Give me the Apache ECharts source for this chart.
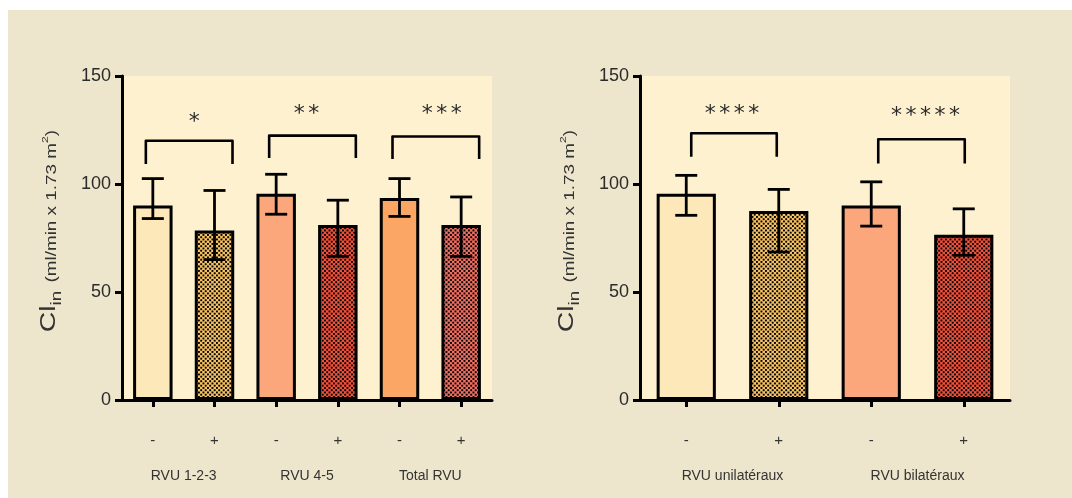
<!DOCTYPE html>
<html>
<head>
<meta charset="utf-8">
<script src="https://cdn.jsdelivr.net/npm/echarts@6/dist/echarts.min.js"></script>
<style>
  html, body { margin: 0; padding: 0; background: #ffffff; }
  #bg { position: absolute; left: 8px; top: 10px; width: 1064px; height: 488px; background: #EDE6CC; }
  #chart { position: absolute; left: 0; top: 0; width: 1072px; height: 498px; }
</style>
</head>
<body>
<div id="bg"></div>
<div id="chart"></div>
<script>
// ---------------- DATA ----------------
const leftCategories = ['-', '+', '-', '+', '-', '+'];
const leftGroups = ['RVU 1-2-3', 'RVU 4-5', 'Total RVU'];
const leftMeans = [90, 78.5, 95.5, 81, 93.5, 81];
const leftErrHigh = [102.5, 97, 104.5, 92.5, 102.5, 94];
const leftErrLow = [84, 65, 86, 66.5, 85, 66.5];
const leftPairs = [[0, 1], [2, 3], [4, 5]];
const leftBracketTop = [120, 122.4, 122];
const leftBracketBottom = [109.3, 112, 111.6];
const leftStarY = [131, 134.7, 134.7];
const leftStars = ['*', '**', '***'];

const rightCategories = ['-', '+', '-', '+'];
const rightGroups = ['RVU unilatéraux', 'RVU bilatéraux'];
const rightMeans = [95.5, 87.5, 90, 76.5];
const rightErrHigh = [104, 97.5, 101, 88.5];
const rightErrLow = [85.5, 68.5, 80.5, 67];
const rightPairs = [[0, 1], [2, 3]];
const rightBracketTop = [123.5, 120.7];
const rightBracketBottom = [112.6, 109.5];
const rightStarY = [134.5, 133.5];
const rightStars = ['****', '*****'];

const yTicks = [0, 50, 100, 150];
const yTitleParts = ['Cl', 'in', '(ml/min x 1.73 m', '2', ')'];

// ---------------- STYLE ----------------
function checker(color) {
  const c = document.createElement('canvas');
  c.width = 9; c.height = 9;
  const g = c.getContext('2d');
  g.fillStyle = color; g.fillRect(0, 0, 9, 9);
  g.fillStyle = '#000';
  const cell = 2.25, s = 1.9;
  for (let i = 0; i < 4; i++) {
    for (let j = 0; j < 4; j++) {
      if ((i + j) % 2 === 0) g.fillRect(i * cell, j * cell, s, s);
    }
  }
  return { image: c, repeat: 'repeat' };
}
const leftColors = ['#FDE8BA', checker('#F6C064'), '#FCA67C', checker('#F2503B'), '#FBA664', checker('#F26E60')];
const rightColors = ['#FDE8BA', checker('#F6C064'), '#FCA67C', checker('#F2503B')];
const leftBracketOffsets = [[-7, 18], [-7, 18], [-7, 18]];
const rightBracketOffsets = [[5, -2], [7, 1]];
const leftStarOffsets = [5, -6, 6];
const rightStarOffsets = [-2, 4];

const chart = echarts.init(document.getElementById('chart'), null, { renderer: 'canvas' });

// y-axis title, built from parts with sub/superscript, rotated
const measureCtx = document.createElement('canvas').getContext('2d');
function tw(text, size) { measureCtx.font = size + 'px "Liberation Sans"'; return measureCtx.measureText(text).width; }
function yTitle(cx, cy) {
  const specs = [
    { t: yTitleParts[0], size: 21, dy: 0 },
    { t: yTitleParts[1], size: 14, dy: 7.5, gapAfter: 6 },
    { t: yTitleParts[2], size: 14, dy: 3 },
    { t: yTitleParts[3], size: 9, dy: -3 },
    { t: yTitleParts[4], size: 14, dy: 3 }
  ];
  let total = 0;
  specs.forEach(s => { s.w = tw(s.t, s.size); total += s.w + (s.gapAfter || 0); });
  let x = -total / 2;
  const children = specs.map(s => {
    const el = { type: 'text', x: x, y: s.dy,
      style: { text: s.t, fontSize: s.size, fontFamily: 'Liberation Sans', fill: '#333',
        align: 'left', verticalAlign: 'middle' } };
    x += s.w + (s.gapAfter || 0);
    return el;
  });
  return { type: 'group', x: cx, y: cy, rotation: Math.PI / 2, scaleX: 1.35, scaleY: 1.05, children: children };
}

function yAxisDef(gridIndex) {
  return {
    type: 'value', gridIndex: gridIndex, min: 0, max: 150, interval: 50,
    axisLine: { show: true, lineStyle: { color: '#000', width: 3 } },
    axisTick: { show: true, length: 7, lineStyle: { color: '#000', width: 3 } },
    axisLabel: { margin: 11, fontSize: 18, color: '#2b2b2b', fontFamily: 'Liberation Sans',
      formatter: v => (yTicks.indexOf(v) >= 0 ? String(v) : '') },
    splitLine: { show: false }
  };
}
function xCatDef(gridIndex, cats) {
  return {
    type: 'category', gridIndex: gridIndex, data: cats, position: 'bottom',
    axisLine: { show: true, lineStyle: { color: '#000', width: 3 } },
    axisTick: { show: true, alignWithLabel: true, length: 7, lineStyle: { color: '#000', width: 3 } },
    axisLabel: { margin: 33, fontSize: 15, color: '#333', fontFamily: 'Liberation Sans' }
  };
}
function xGroupDef(gridIndex, groups) {
  return {
    type: 'category', gridIndex: gridIndex, data: groups, position: 'bottom',
    axisLine: { show: false }, axisTick: { show: false },
    axisLabel: { margin: 69, fontSize: 14, color: '#333', fontFamily: 'Liberation Sans' }
  };
}

function barSeries(xi, yi, means, colors) {
  return {
    type: 'bar', xAxisIndex: xi, yAxisIndex: yi, barWidth: '64%',
    data: means.map((v, i) => ({ value: v, itemStyle: { color: colors[i] } })),
    itemStyle: { borderColor: '#000', borderWidth: 3 },
    emphasis: { disabled: true }, z: 2
  };
}
function errSeries(xi, yi, lows, highs) {
  return {
    type: 'custom', xAxisIndex: xi, yAxisIndex: yi, z: 5,
    encode: { x: 0, y: [1, 2] },
    data: lows.map((l, i) => [i, l, highs[i]]),
    renderItem: function (params, api) {
      const lo = api.coord([api.value(0), api.value(1)]);
      const hi = api.coord([api.value(0), api.value(2)]);
      const w = 11;
      const st = { stroke: '#000', lineWidth: 2.8 };
      return { type: 'group', children: [
        { type: 'line', shape: { x1: lo[0], y1: lo[1], x2: hi[0], y2: hi[1] }, style: st },
        { type: 'line', shape: { x1: lo[0] - w, y1: lo[1], x2: lo[0] + w, y2: lo[1] }, style: st },
        { type: 'line', shape: { x1: hi[0] - w, y1: hi[1], x2: hi[0] + w, y2: hi[1] }, style: st }
      ] };
    }
  };
}
function bracketSeries(xi, yi, pairs, tops, bottoms, starY, stars, offs, starOffs) {
  return {
    type: 'custom', xAxisIndex: xi, yAxisIndex: yi, z: 6,
    encode: { x: [0, 1], y: [2, 3, 4] },
    data: pairs.map((p, i) => [p[0], p[1], tops[i], bottoms[i], starY[i]]),
    renderItem: function (params, api) {
      const k = params.dataIndex;
      const a = api.coord([api.value(0), api.value(2)]);
      const b = api.coord([api.value(1), api.value(3)]);
      const s = api.coord([api.value(0), api.value(4)]);
      const x0 = a[0] + offs[k][0], x1 = b[0] + offs[k][1];
      const yt = a[1], yb = b[1];
      const children = [{
        type: 'polyline',
        shape: { points: [[x0, yb], [x0, yt], [x1, yt], [x1, yb]] },
        style: { stroke: '#000', lineWidth: 2.6, fill: null, lineJoin: 'round' }
      }];
      const n = stars[k].length, pitch = 14.5;
      const cx = (x0 + x1) / 2 + starOffs[k];
      for (let j = 0; j < n; j++) {
        children.push({
          type: 'text',
          style: { text: '*', x: cx + (j - (n - 1) / 2) * pitch, y: s[1] + 5,
            align: 'center', verticalAlign: 'middle', fontSize: 22,
            fontFamily: 'DejaVu Sans', fill: '#2a2a2a' }
        });
      }
      return { type: 'group', children: children };
    }
  };
}

const option = {
  backgroundColor: 'transparent',
  animation: false,
  grid: [
    { left: 122, right: 580, top: 76, bottom: 98, show: true, backgroundColor: '#FEF1D0', borderWidth: 0 },
    { left: 640, right: 62, top: 76, bottom: 98, show: true, backgroundColor: '#FEF1D0', borderWidth: 0 }
  ],
  graphic: [ yTitle(49, 231), yTitle(567, 231) ],
  xAxis: [
    xCatDef(0, leftCategories), xGroupDef(0, leftGroups),
    xCatDef(1, rightCategories), xGroupDef(1, rightGroups)
  ],
  yAxis: [yAxisDef(0), yAxisDef(1)],
  series: [
    barSeries(0, 0, leftMeans, leftColors),
    errSeries(0, 0, leftErrLow, leftErrHigh),
    bracketSeries(0, 0, leftPairs, leftBracketTop, leftBracketBottom, leftStarY, leftStars, leftBracketOffsets, leftStarOffsets),
    barSeries(2, 1, rightMeans, rightColors),
    errSeries(2, 1, rightErrLow, rightErrHigh),
    bracketSeries(2, 1, rightPairs, rightBracketTop, rightBracketBottom, rightStarY, rightStars, rightBracketOffsets, rightStarOffsets)
  ]
};
chart.setOption(option);
</script>
</body>
</html>
